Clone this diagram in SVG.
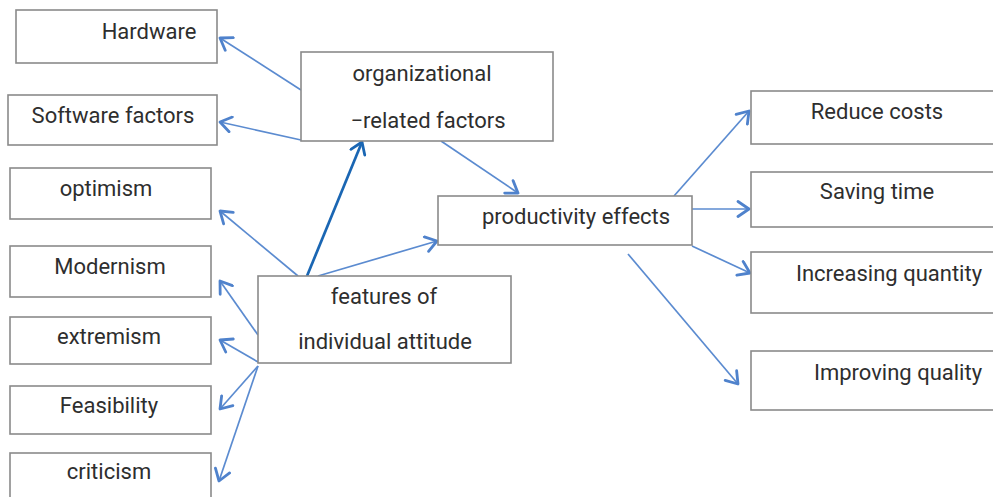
<svg xmlns="http://www.w3.org/2000/svg" width="993" height="497" viewBox="0 0 993 497">
<defs>
<style>
.box{fill:#fff;stroke:#8a8a8a;stroke-width:1.6}
.t{font-family:Roboto,"Liberation Sans",sans-serif;font-size:22px;fill:#2e2e2e;text-anchor:middle}
.c{fill:none;stroke:#5b8bd0;stroke-width:1.7}
.cd{fill:none;stroke:#1a66b3;stroke-width:2.7}
</style>
<marker id="ah" markerWidth="16" markerHeight="18" refX="13" refY="9" orient="auto" markerUnits="userSpaceOnUse">
<path d="M2,1.5 L13,9 L2,16.5" fill="none" stroke="#4f82cc" stroke-width="2.8" stroke-linecap="round" stroke-linejoin="round"/>
</marker>
<marker id="ahd" markerWidth="16" markerHeight="18" refX="13" refY="9" orient="auto" markerUnits="userSpaceOnUse">
<path d="M2,1.5 L13,9 L2,16.5" fill="none" stroke="#1a66b3" stroke-width="2.8" stroke-linecap="round" stroke-linejoin="round"/>
</marker>
</defs>
<rect width="993" height="497" fill="#fff"/>
<g id="connectors">
<line class="c" x1="301" y1="90" x2="220" y2="38" marker-end="url(#ah)"/>
<line class="c" x1="301" y1="140" x2="220" y2="122" marker-end="url(#ah)"/>
<line class="c" x1="441" y1="141" x2="518" y2="193" marker-end="url(#ah)"/>
<line class="cd" x1="307" y1="276" x2="362" y2="142" marker-end="url(#ahd)"/>
<line class="c" x1="298" y1="276" x2="220" y2="211" marker-end="url(#ah)"/>
<line class="c" x1="258" y1="335" x2="220" y2="281" marker-end="url(#ah)"/>
<line class="c" x1="258" y1="362" x2="220" y2="340" marker-end="url(#ah)"/>
<line class="c" x1="258" y1="366" x2="220" y2="409" marker-end="url(#ah)"/>
<line class="c" x1="258" y1="366" x2="219" y2="481" marker-end="url(#ah)"/>
<line class="c" x1="318" y1="276" x2="437" y2="241" marker-end="url(#ah)"/>
<line class="c" x1="674" y1="196" x2="749" y2="111" marker-end="url(#ah)"/>
<line class="c" x1="692" y1="209" x2="749" y2="209" marker-end="url(#ah)"/>
<line class="c" x1="692" y1="246" x2="750" y2="273" marker-end="url(#ah)"/>
<line class="c" x1="628" y1="254" x2="738" y2="384" marker-end="url(#ah)"/>
</g>
<g id="hardware"><rect class="box" x="16" y="10" width="201" height="53"/><text class="t" x="149" y="39">Hardware</text></g>
<g id="software"><rect class="box" x="8" y="95" width="209" height="50"/><text class="t" x="113" y="123">Software factors</text></g>
<g id="optimism"><rect class="box" x="10" y="168" width="201" height="51"/><text class="t" x="106" y="196">optimism</text></g>
<g id="modernism"><rect class="box" x="10" y="246" width="201" height="51"/><text class="t" x="110" y="274">Modernism</text></g>
<g id="extremism"><rect class="box" x="10" y="317" width="201" height="47"/><text class="t" x="109" y="344">extremism</text></g>
<g id="feasibility"><rect class="box" x="10" y="386" width="201" height="48"/><text class="t" x="109" y="413">Feasibility</text></g>
<g id="criticism"><rect class="box" x="10" y="453" width="201" height="50"/><text class="t" x="109" y="479">criticism</text></g>
<g id="organizational"><rect class="box" x="301" y="52" width="252" height="89"/><text class="t" x="422" y="81">organizational</text><text class="t" x="428" y="128">−related factors</text></g>
<g id="features"><rect class="box" x="258" y="276" width="253" height="87"/><text class="t" x="384" y="304">features of</text><text class="t" x="385" y="349">individual attitude</text></g>
<g id="productivity"><rect class="box" x="438" y="196" width="254" height="49"/><text class="t" x="576" y="224">productivity effects</text></g>
<g id="reduce"><rect class="box" x="751" y="91" width="250" height="53"/><text class="t" x="877" y="119">Reduce costs</text></g>
<g id="saving"><rect class="box" x="751" y="172" width="250" height="55"/><text class="t" x="877" y="199">Saving time</text></g>
<g id="increasing"><rect class="box" x="751" y="252" width="250" height="61"/><text class="t" x="889" y="281">Increasing quantity</text></g>
<g id="improving"><rect class="box" x="751" y="351" width="250" height="59"/><text class="t" x="898" y="380">Improving quality</text></g>
</svg>
